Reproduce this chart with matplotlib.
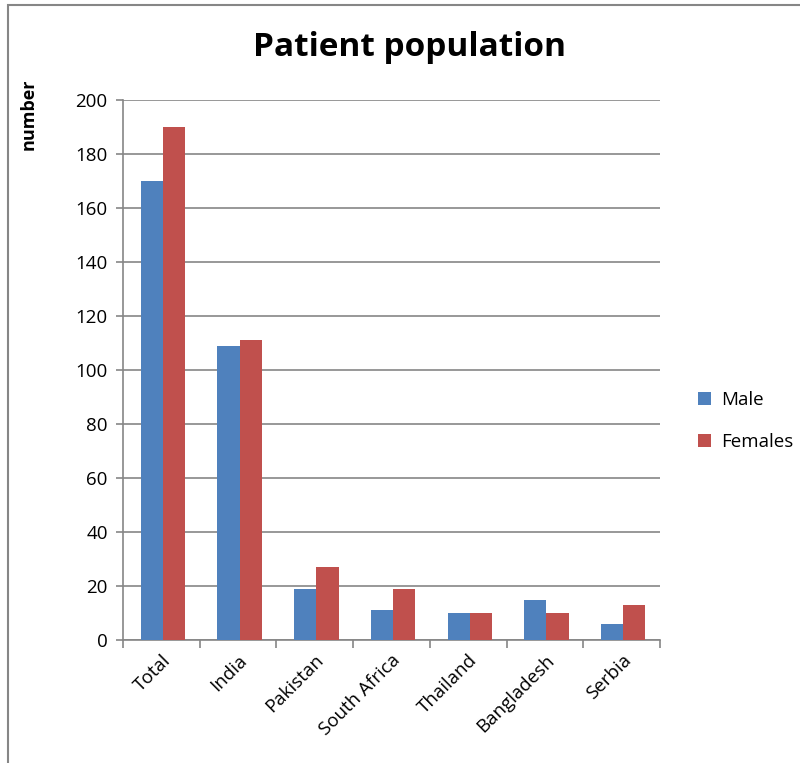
import matplotlib.pyplot as plt
import numpy as np
from matplotlib.patches import Rectangle

plt.rcParams['font.family'] = ['Open Sans', 'DejaVu Sans']

countries = ['Total', 'India', 'Pakistan', 'South Africa', 'Thailand', 'Bangladesh', 'Serbia']
male = [170, 109, 19, 11, 10, 15, 6]
females = [190, 111, 27, 19, 10, 10, 13]

blue = '#4f81bd'
red = '#c0504d'
grey = '#868686'

fig = plt.figure(figsize=(8, 7.63), dpi=100)
fig.patches.append(Rectangle((0.01, -0.01), 1.1, 1.003, transform=fig.transFigure,
                             fill=False, edgecolor=grey, linewidth=1.5))

ax = fig.add_axes([123 / 800, 1 - 640 / 763, (660 - 123) / 800, 540 / 763])

x = np.arange(len(countries))
w = 0.29
ax.bar(x - w / 2 + 0.02, male, w, color=blue, label='Male', zorder=3)
ax.bar(x + w / 2 + 0.02, females, w, color=red, label='Females', zorder=3)

ax.set_xlim(-0.5, len(countries) - 0.5)
ax.set_ylim(0, 200)
ax.set_yticks(range(0, 201, 20))
ax.yaxis.grid(True, color=grey, linewidth=1.2, zorder=0)

ax.set_xticks(x)
ax.set_xticklabels(countries, rotation=45, ha='right', rotation_mode='anchor', fontsize=13.5)
ax.tick_params(axis='x', length=0, pad=8)
ax.set_xticks(np.arange(-0.5, len(countries), 1), minor=True)
ax.tick_params(axis='x', which='minor', length=6, color=grey, width=1.2)
ax.tick_params(axis='y', length=5, color=grey, width=1.2, labelsize=13.5, pad=6)

for side in ['top', 'right']:
    ax.spines[side].set_visible(False)
for side in ['left', 'bottom']:
    ax.spines[side].set_color(grey)
    ax.spines[side].set_linewidth(1.2)

fig.text(410 / 800, 1 - 48 / 763, 'Patient population',
         fontsize=24, fontweight='bold', ha='center', va='center')
fig.text(29 / 800, 1 - 114 / 763, 'number', rotation=90, fontsize=13,
         fontweight='bold', ha='center', va='center')

ax.legend(loc='center left', bbox_to_anchor=(1.04, 0.405), frameon=False,
          fontsize=13.5, handlelength=0.7, handleheight=0.7, handletextpad=0.5,
          labelspacing=1.3)

fig.savefig('out.png', dpi=100)
